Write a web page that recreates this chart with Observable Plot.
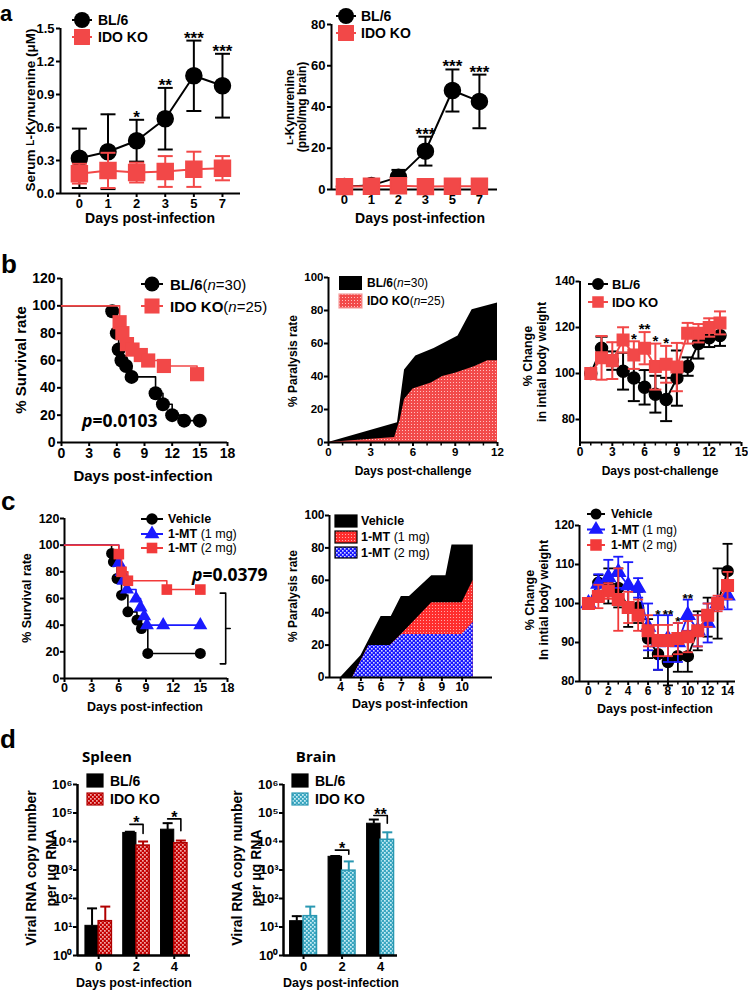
<!DOCTYPE html>
<html><head><meta charset="utf-8">
<script src="https://cdn.jsdelivr.net/npm/d3@7"></script>
<script src="https://cdn.jsdelivr.net/npm/@observablehq/plot@0.6"></script>
<style>
body{margin:0;background:#fff;}
#wrap{position:relative;width:748px;height:992px;overflow:hidden;background:#fff;}
g[aria-label$="-axis tick"], g[aria-label$="-axis tick"] path {stroke-width:2px;}
</style></head><body><div id="wrap"></div>
<script>
// ================= DATA =================
// a: kynurenine
const aDayLabels = ["0","1","2","3","5","7"];
const aSerumBL = [0.32,0.38,0.48,0.68,1.07,0.98];
const aSerumBLErr = [0.27,0.34,0.19,0.28,0.32,0.29];
const aSerumKO = [0.18,0.21,0.19,0.20,0.22,0.23];
const aSerumKOErr = [0.09,0.16,0.09,0.14,0.16,0.11];
const aSerumSig = ["","","*","**","***","***"];
const aBrainBL = [1.5,2.0,6.0,18.6,48.0,42.7];
const aBrainBLErr = [0.6,1.5,3.5,7.0,10.2,13.0];
const aBrainKO = [1.4,1.6,1.8,1.4,1.6,1.6];
const aBrainKOErr = [0.6,0.6,0.8,0.6,0.6,0.6];
const aBrainSig = ["","","","***","***","***"];
// b: survival (Kaplan-Meier)
const bSurvBLDays = [0,5.5,6.0,6.2,6.5,7.0,7.6,10.2,11.0,12.0,13.3,15];
const bSurvBL = [100,96,80,68,60,56,48,36,28,20,16,16];
const bSurvKODays = [0,6.3,6.6,7.1,7.7,8.6,9.4,11.1,14.7];
const bSurvKO = [100,88,80,72,68,64,60,56,50];
// b: paralysis
const bParBLDays = [0,4.9,5.4,6.2,7.5,9.2,10.2,12];
const bParBL = [0,12,44,52.5,57,64.5,80.5,84.5];
const bParKODays = [0,4.7,5.1,5.4,6.0,7.3,8.1,9.0,10.4,11.3,12];
const bParKO = [0,3,14,26,32.5,36,40,42,46,49.5,49.5];
// b: body weight
const bWtDays = [1,2,3,4,5,6,7,8,9,10,11,12,13];
const bWtBL = [100,111,105.6,101,98,94,91,88.7,98,103,113,115.5,116.5];
const bWtBLErr = [0,5,4,8,10,7.5,8,9.4,12,4,6.5,4,4.5];
const bWtKO = [100,106.8,105.6,114.6,108,111,103,104,102.8,117.5,117.5,120,122];
const bWtKOErr = [0,9.5,8,5.5,6,7,10,8,10.5,4.5,4,4,5];
const bWtSig = ["","","","","*","**","*","*","","","","",""];
// c: survival
const cSurvVehDays = [0,5.2,5.4,5.8,6.3,7.0,8.0,8.5,9.2,15];
const cSurvVeh = [100,93.8,87.5,75,62.5,50,43.8,37.5,18.8,18.8];
const cSurv1Days = [0,6.0,6.3,6.5,6.9,7.9,8.4,8.8,9.1,10.9,15];
const cSurv1 = [100,86.7,80,73.3,66.7,60,53.3,46.7,40,40,40];
const cSurv2Days = [0,6.0,6.3,7.0,11.3,15];
const cSurv2 = [100,93.3,80,73.3,66.7,66.7];
const cBracketX = [17.2,17.8,17.8,17.2];
const cBracketY = [64,64,11,11];
const cBracketTick = [17.8,18.3];
const cPValue = "0.0379";
const bPValue = "0.0103";
// c: paralysis
const cParVehDays = [4,5,6,6.5,7,7.4,8.5,9.2,9.5,10.55];
const cParVeh = [0,13.5,37.7,37.7,50,50,62.8,62.8,81.8,81.8];
const cPar1Days = [4.6,5.4,6.45,7.0,8.5,10.0,10.55];
const cPar1 = [0,19.7,19.7,26.5,46.2,46.2,60];
const cPar2Days = [4.6,5.4,6.45,7.03,10.0,10.55];
const cPar2 = [0,19.7,19.7,26.5,26.5,34];
// c: body weight
const cWtDays = [0,1,2,3,4,5,6,7,8,9,10,11,12,13,14];
const cWtVeh = [100,105.3,104.5,104,99,99,91,87,85,86.5,86.5,93,96.5,100,108.3];
const cWtVehErr = [0,2,4.5,5,5,4,5,4,6,4,4,5,5,9,7];
const cWt1 = [100,105,106.7,108,104.6,104,94,90,91,90,97,93,95,100,102];
const cWt1Err = [0,2.5,4.5,4,6,2.5,6,7,6,5,4,4,5,1.5,3.5];
const cWt2 = [100,101.8,103.2,101,99,97,93,90.5,90.5,91,91.5,93,97,100,104.6];
const cWt2Err = [0,3,2,8,4,4,4,4,4,4,4,4,3,2,3.5];
const cWtSig = ["","","","","","","","*","**","*","**","","","",""];
// d: viral RNA
const dDayLabels = ["0","2","4"];
const dSpleenBL = [11,2.0e4,2.6e4];
const dSpleenBLTop = [45,2.2e4,4.4e4];
const dSpleenKO = [16,7.2e3,8.7e3];
const dSpleenKOTop = [52,1.0e4,1.08e4];
const dSpleenBracket = [0,4.0e4,6.2e4];
const dSpleenBracketEnd = [0,1.9e4,2.4e4];
const dSpleenSig = ["","*","*"];
const dBrainBL = [16,2.9e3,4.2e4];
const dBrainBLTop = [24,3.1e3,5.9e4];
const dBrainKO = [24,950,1.15e4];
const dBrainKOTop = [52,2.0e3,2.1e4];
const dBrainBracket = [0,5.0e3,8.2e4];
const dBrainBracketEnd = [0,3.6e3,4.4e4];
const dBrainSig = ["","*","**"];

// ================= COLORS / FONTS =================
const ARIAL = "'Liberation Sans', Arial, Helvetica, sans-serif";
const OPEN = "'Open Sans', 'Liberation Sans', sans-serif";
const BLACK = "#000";
const RED = "#f24848";
const RED_C = "#f23a3a";
const BLUE_C = "#1a1aff";
const DRED = "#b00000";
const TEAL = "#2a98b2";

const wrap = document.getElementById("wrap");
const ov = d3.select(wrap).append("svg").attr("width",748).attr("height",992)
  .style("position","absolute").style("left","0px").style("top","0px").style("z-index","2").style("overflow","visible");
const defs = ov.append("defs");
function pat(id, size, bg, fg, dots){
  const p = defs.append("pattern").attr("id",id).attr("width",size).attr("height",size).attr("patternUnits","userSpaceOnUse");
  p.append("rect").attr("width",size).attr("height",size).attr("fill",bg);
  dots.forEach(([x,y,s])=>p.append("rect").attr("x",x).attr("y",y).attr("width",s).attr("height",s).attr("fill",fg));
}
pat("pRedB",3,"#f24a4a","#ffc0c0",[[0,0,1]]);
pat("pRedC",3,"#ff2e2e","#ffaaaa",[[0,0,1]]);
pat("pBlueC",4,"#1616ff","#d4d4ff",[[0,0,1.6],[2,2,1.6]]);
pat("pRedD",4,"#c40000","#f2a8a8",[[0,0,1.7],[2,2,1.7]]);
pat("pTealD",4,"#3aa6c0","#c8eef6",[[0,0,1.7],[2,2,1.7]]);

// ================= HELPERS =================
const capSym = {draw(ctx,size){const r=Math.sqrt(size/Math.PI);ctx.moveTo(-r,0);ctx.lineTo(r,0);}};
const vTickSym = {draw(ctx,size){const r=Math.sqrt(size/Math.PI);ctx.moveTo(0,0);ctx.lineTo(0,r);}};

function chart(box, frame, fontSize, opts){
  const [bx,by,bw,bh] = box, [fx0,fy0,fx1,fy1] = frame;
  const svg = Plot.plot({
    width: bw, height: bh,
    marginLeft: fx0-bx, marginRight: bx+bw-fx1, marginTop: fy0-by, marginBottom: by+bh-fy1,
    style: {fontFamily: ARIAL, fontSize: fontSize+"px", fontWeight: "bold", background: "transparent", overflow: "visible", color: "#000"},
    ...opts
  });
  svg.style.position = "absolute"; svg.style.left = bx+"px"; svg.style.top = by+"px";
  wrap.appendChild(svg);
  return svg;
}
function pts(xs, ys, errs){ return xs.map((x,i)=>({x, y: ys[i], lo: ys[i]-(errs?errs[i]:0), hi: ys[i]+(errs?errs[i]:0)})); }
function errMarks(data, color, capR, sw=2){
  const d = data.filter(p=>p.hi>p.y);
  return [
    Plot.ruleX(d,{x:"x",y1:"lo",y2:"hi",stroke:color,strokeWidth:sw}),
    Plot.dot(d,{x:"x",y:"hi",symbol:capSym,r:capR,stroke:color,strokeWidth:sw,fill:"none"}),
    Plot.dot(d,{x:"x",y:"lo",symbol:capSym,r:capR,stroke:color,strokeWidth:sw,fill:"none"})
  ];
}
function seriesMarks(data, color, symbol, r, capR, lw=2){
  return [
    Plot.line(data,{x:"x",y:"y",stroke:color,strokeWidth:lw}),
    ...errMarks(data,color,capR,lw),
    Plot.dot(data,{x:"x",y:"y",symbol,r,fill:color,stroke:color})
  ];
}
function axisLines(xmin, ymin, sw=2){
  return [Plot.ruleX([xmin],{strokeWidth:sw}), Plot.ruleY([ymin],{strokeWidth:sw})];
}
function minorTicks(vals, ymin, len=3){
  return Plot.dot(vals,{x:d=>d,y:()=>ymin,symbol:vTickSym,r:len,stroke:"#000",strokeWidth:1.5,fill:"none"});
}
function sigData(xs, groups, sig){
  return xs.map((x,i)=>({x, y: Math.max(...groups.map(g=>g[i].hi)), s: sig[i]})).filter(d=>d.s);
}
const range = (a,b,s=1)=>d3.range(a,b+s/2,s);

function T(x,y,segs,o={}){
  const t = ov.append("text").attr("x",x).attr("y",y)
    .attr("font-family",o.family||ARIAL).attr("font-size",o.size||13)
    .attr("font-weight",o.weight||"bold").attr("text-anchor",o.anchor||"middle")
    .attr("dominant-baseline",o.baseline||"central").attr("fill",o.color||"#000");
  if (o.rotate) t.attr("transform",`rotate(${o.rotate},${x},${y})`);
  (typeof segs==="string"?[[segs]]:segs).forEach(([s,so={}])=>{
    const ts = t.append("tspan").text(s);
    if (so.weight) ts.attr("font-weight",so.weight);
    if (so.style) ts.attr("font-style",so.style);
    if (so.size) ts.attr("font-size",so.size);
  });
}
function LM(x,y,{sym,r,color,line}){
  if (line) ov.append("line").attr("x1",x-line/2).attr("x2",x+line/2).attr("y1",y).attr("y2",y).attr("stroke",color).attr("stroke-width",2);
  ov.append("path").attr("transform",`translate(${x},${y})`).attr("d",d3.symbol(sym,Math.PI*r*r)()).attr("fill",color);
}
function LR(x,y,w,h,fill,stroke){
  ov.append("rect").attr("x",x).attr("y",y).attr("width",w).attr("height",h).attr("fill",fill)
    .attr("stroke",stroke||"none").attr("stroke-width",stroke?1.2:0);
}

// ================= PANEL a (left) =================
{
  const idx = aDayLabels.map((_,i)=>i);
  const bl = pts(idx,aSerumBL,aSerumBLErr), ko = pts(idx,aSerumKO,aSerumKOErr);
  chart([0,0,250,212],[60,28,240,193],13,{
    x:{domain:[-0.66,5.63],ticks:idx,tickFormat:i=>aDayLabels[i],tickSize:4,tickPadding:1,label:null},
    y:{domain:[0,1.5],ticks:[0,0.3,0.6,0.9,1.2,1.5],tickFormat:d3.format(".1f"),tickSize:4,tickPadding:2,label:null},
    marks:[
      ...axisLines(-0.66,0),
      ...seriesMarks(bl,BLACK,"circle",8,7.5),
      ...seriesMarks(ko,RED,"square",9,7.5),
      Plot.text(sigData(idx,[bl,ko],aSerumSig),{x:"x",y:"y",text:"s",fontSize:17,fontWeight:"bold",dy:-2.5})
    ]
  });
}
// ================= PANEL a (right) =================
{
  const idx = aDayLabels.map((_,i)=>i);
  const bl = pts(idx,aBrainBL,aBrainBLErr), ko = pts(idx,aBrainKO,aBrainKOErr);
  chart([250,0,255,212],[331,24,497,189],13,{
    x:{domain:[-0.48,5.67],ticks:idx,tickFormat:i=>aDayLabels[i],tickSize:4,tickPadding:1,label:null},
    y:{domain:[0,80],ticks:[0,20,40,60,80],tickSize:4,tickPadding:2,label:null},
    marks:[
      ...axisLines(-0.48,0),
      ...seriesMarks(bl,BLACK,"circle",8,7),
      ...seriesMarks(ko,RED,"square",9,7),
      Plot.text(sigData(idx,[bl,ko],aBrainSig),{x:"x",y:"y",text:"s",fontSize:17,fontWeight:"bold",dy:-2.5})
    ]
  });
}
// ================= PANEL b (survival) =================
{
  const bl = pts(bSurvBLDays,bSurvBL), ko = pts(bSurvKODays,bSurvKO);
  chart([0,262,250,200],[61,278,227,442],14,{
    x:{domain:[0,18],ticks:range(0,18,3),tickSize:4,tickPadding:2,label:null},
    y:{domain:[0,120],ticks:range(0,120,20),tickSize:4,tickPadding:2,label:null},
    marks:[
      ...axisLines(0,0),
      Plot.line(bl,{x:"x",y:"y",curve:"step-after",stroke:BLACK,strokeWidth:1.6}),
      Plot.dot(bl.slice(1),{x:"x",y:"y",symbol:"circle",r:7,fill:BLACK}),
      Plot.line(ko,{x:"x",y:"y",curve:"step-after",stroke:RED,strokeWidth:1.6}),
      Plot.dot(ko.slice(1),{x:"x",y:"y",symbol:"square",r:8,fill:RED})
    ]
  });
}
// ================= PANEL b (paralysis) =================
{
  const bl = pts(bParBLDays,bParBL), ko = pts(bParKODays,bParKO);
  chart([255,262,250,200],[328,277,497,442],11.5,{
    x:{domain:[0,12],ticks:range(0,12,3),tickSize:4,tickPadding:1,label:null},
    y:{domain:[0,100],ticks:range(0,100,20),tickSize:4,tickPadding:1,label:null},
    marks:[
      Plot.areaY(bl,{x:"x",y:"y",fill:BLACK}),
      Plot.areaY(ko,{x:"x",y:"y",fill:"url(#pRedB)"}),
      ...axisLines(0,0),
      minorTicks(range(1,11).filter(d=>d%3),0,3)
    ]
  });
}
// ================= PANEL b (body weight) =================
{
  const bl = pts(bWtDays,bWtBL,bWtBLErr), ko = pts(bWtDays,bWtKO,bWtKOErr);
  chart([505,262,243,200],[579.5,281,741,442],12,{
    x:{domain:[0,15],ticks:range(0,15,3),tickSize:4,tickPadding:1,label:null},
    y:{domain:[70,140],ticks:[80,100,120,140],tickSize:4,tickPadding:1,label:null},
    marks:[
      ...axisLines(0,70),
      minorTicks(range(1,14).filter(d=>d%3),70,3),
      ...seriesMarks(bl,BLACK,"circle",6,6),
      ...seriesMarks(ko,RED,"square",6.5,6),
      Plot.text(sigData(bWtDays,[bl,ko],bWtSig),{x:"x",y:"y",text:"s",fontSize:15,fontWeight:"bold",dy:-2.5})
    ]
  });
}
// ================= PANEL c (survival) =================
{
  const veh = pts(cSurvVehDays,cSurvVeh), m1 = pts(cSurv1Days,cSurv1), m2 = pts(cSurv2Days,cSurv2);
  const br = cBracketX.map((x,i)=>({x,y:cBracketY[i]}));
  const brT = cBracketTick.map(x=>({x,y:(cBracketY[0]+cBracketY[2])/2}));
  chart([0,500,250,200],[64,518,227,678],12.5,{
    x:{domain:[0,18],ticks:range(0,18,3),tickSize:4,tickPadding:1,label:null},
    y:{domain:[0,120],ticks:range(0,120,20),tickSize:4,tickPadding:1,label:null},
    marks:[
      ...axisLines(0,0),
      Plot.line(veh,{x:"x",y:"y",curve:"step-after",stroke:BLACK,strokeWidth:1.6}),
      Plot.dot(veh.slice(1),{x:"x",y:"y",symbol:"circle",r:5.5,fill:BLACK}),
      Plot.line(m1,{x:"x",y:"y",curve:"step-after",stroke:BLUE_C,strokeWidth:1.6}),
      Plot.dot(m1.slice(1),{x:"x",y:"y",symbol:"triangle",r:5.2,fill:BLUE_C}),
      Plot.line(m2,{x:"x",y:"y",curve:"step-after",stroke:RED_C,strokeWidth:1.6}),
      Plot.dot(m2.slice(1),{x:"x",y:"y",symbol:"square",r:6,fill:RED_C}),
      Plot.line(br,{x:"x",y:"y",stroke:BLACK,strokeWidth:1.6}),
      Plot.line(brT,{x:"x",y:"y",stroke:BLACK,strokeWidth:1.6})
    ]
  });
}
// ================= PANEL c (paralysis) =================
{
  const veh = pts(cParVehDays,cParVeh), m1 = pts(cPar1Days,cPar1), m2 = pts(cPar2Days,cPar2);
  chart([255,500,250,200],[329,515,492,677],12,{
    x:{domain:[3.45,11.5],ticks:range(4,10),tickSize:4,tickPadding:1,label:null},
    y:{domain:[0,100],ticks:range(0,100,20),tickSize:4,tickPadding:1,label:null},
    marks:[
      Plot.areaY(veh,{x:"x",y:"y",fill:BLACK}),
      Plot.areaY(m1,{x:"x",y:"y",fill:"url(#pRedC)"}),
      Plot.areaY(m2,{x:"x",y:"y",fill:"url(#pBlueC)"}),
      ...axisLines(3.45,0)
    ]
  });
}
// ================= PANEL c (body weight) =================
{
  const veh = pts(cWtDays,cWtVeh,cWtVehErr), m1 = pts(cWtDays,cWt1,cWt1Err), m2 = pts(cWtDays,cWt2,cWt2Err);
  chart([505,505,243,195],[579,525,735,681],12,{
    x:{domain:[-0.9,14.8],ticks:range(0,14,2),tickSize:4,tickPadding:1,label:null},
    y:{domain:[80,120],ticks:range(80,120,10),tickSize:4,tickPadding:1,label:null},
    marks:[
      ...axisLines(-0.9,80),
      minorTicks(range(1,13,2),80,3),
      ...seriesMarks(veh,BLACK,"circle",5.5,5,1.8),
      ...seriesMarks(m1,BLUE_C,"triangle",5.2,5,1.8),
      ...seriesMarks(m2,RED_C,"square",6.5,5,1.8),
      Plot.text(sigData(cWtDays,[veh,m1,m2],cWtSig),{x:"x",y:"y",text:"s",fontSize:13.5,fontWeight:"bold",dy:-1})
    ]
  });
}
// ================= PANEL d =================
const sup = ["\u2070","\u00b9","\u00b2","\u00b3","\u2074","\u2075","\u2076"];
function dChart(box, frame, dom, bl, blTop, ko, koTop, koFill, koStroke, brk, brkEnd, sig){
  const w = 0.35;
  const idx = dDayLabels.map((_,i)=>i);
  const bars = idx.flatMap(i=>[
    {x1:i-w,x2:i,xc:i-w/2,y:bl[i],top:blTop[i],g:"BL"},
    {x1:i,x2:i+w,xc:i+w/2,y:ko[i],top:koTop[i],g:"KO"}]);
  const blBars = bars.filter(b=>b.g==="BL"), koBars = bars.filter(b=>b.g==="KO");
  const brackets = idx.filter(i=>sig[i]).flatMap(i=>[
    {x:i-w/2,y:brk[i],k:i},{x:i+w/2,y:brk[i],k:i},{x:i+w/2,y:brkEnd[i],k:i}]);
  const stars = idx.filter(i=>sig[i]).map(i=>({x:i,y:brk[i],s:sig[i]}));
  chart(box,frame,13,{
    x:{domain:dom,ticks:idx,tickFormat:i=>dDayLabels[i],tickSize:4,tickPadding:2,label:null},
    y:{type:"log",domain:[1,1e6],ticks:[1,10,100,1e3,1e4,1e5,1e6],tickFormat:d=>"10"+sup[Math.round(Math.log10(d))],tickSize:4,tickPadding:1,label:null},
    marks:[
      Plot.ruleX(blBars,{x:"xc",y1:"y",y2:"top",stroke:BLACK,strokeWidth:2}),
      Plot.dot(blBars,{x:"xc",y:"top",symbol:capSym,r:5,stroke:BLACK,strokeWidth:2,fill:"none"}),
      Plot.ruleX(koBars,{x:"xc",y1:"y",y2:"top",stroke:koStroke,strokeWidth:2}),
      Plot.dot(koBars,{x:"xc",y:"top",symbol:capSym,r:5,stroke:koStroke,strokeWidth:2,fill:"none"}),
      Plot.rectY(blBars,{x1:"x1",x2:"x2",y1:1,y2:"y",fill:BLACK,stroke:BLACK,strokeWidth:1}),
      Plot.rectY(koBars,{x1:"x1",x2:"x2",y1:1,y2:"y",fill:koFill,stroke:koStroke,strokeWidth:1.5}),
      Plot.line(brackets,{x:"x",y:"y",z:"k",stroke:BLACK,strokeWidth:1.6}),
      Plot.text(stars,{x:"x",y:"y",text:"s",fontSize:16,fontWeight:"bold",dy:-1}),
      ...axisLines(dom[0],1,2.5)
    ]
  });
}
dChart([0,770,210,222],[77,784,190,955],[-0.56,2.43],dSpleenBL,dSpleenBLTop,dSpleenKO,dSpleenKOTop,"url(#pRedD)",DRED,dSpleenBracket,dSpleenBracketEnd,dSpleenSig);
dChart([210,770,200,222],[283,784,397,955],[-0.52,2.44],dBrainBL,dBrainBLTop,dBrainKO,dBrainKOTop,"url(#pTealD)",TEAL,dBrainBracket,dBrainBracketEnd,dBrainSig);

// bring overlay on top
wrap.appendChild(ov.node());

// ================= TEXT: panel letters =================
T(0,21,"a",{size:22,anchor:"start",baseline:"alphabetic"});
T(1,273,"b",{size:26,anchor:"start",baseline:"alphabetic"});
T(1,510,"c",{size:26,anchor:"start",baseline:"alphabetic"});
T(0,748,"d",{size:26,anchor:"start",baseline:"alphabetic"});

// ================= TEXT: axis titles =================
T(150,218,"Days post-infection",{size:14});
T(420,218,"Days post-infection",{size:14});
T(143,475,"Days post-infection",{size:15});
T(413,471,"Days post-challenge",{size:12});
T(660,471,"Days post-challenge",{size:12});
T(145,707,"Days post-infection",{size:12.5});
T(410,704,"Days post-infection",{size:12.5});
T(655,709,"Days post-infection",{size:12.5});
T(134,983,"Days post-infection",{size:12.5});
T(341,983,"Days post-infection",{size:12.5});

T(30,110,[["Serum "],["L",{size:10}],["-Kynurenine (\u03bcM)"]],{size:13.5,rotate:-90});
T(290,107,[["L",{size:9}],["-Kynurenine"]],{size:12,rotate:-90});
T(302,107,"(pmol/mg brain)",{size:12,rotate:-90});
T(20,360,"% Survival rate",{size:15,rotate:-90});
T(293,361,"% Paralysis rate",{size:12,rotate:-90});
T(528,356,"% Change",{size:12.5,rotate:-90});
T(542,362,"in intial body weight",{size:12.5,rotate:-90});
T(27,598,"% Survival rate",{size:12.5,rotate:-90});
T(293,596,"% Paralysis rate",{size:12,rotate:-90});
T(530,600,"% Change",{size:12.5,rotate:-90});
T(544,600,"In intial body weight",{size:12.5,rotate:-90});
T(31,868,"Viral RNA copy number",{size:14,rotate:-90});
T(51,868,"per \u03bcg RNA",{size:14,rotate:-90});
T(237,868,"Viral RNA copy number",{size:14,rotate:-90});
T(256,868,"per \u03bcg RNA",{size:14,rotate:-90});
T(107,756,"Spleen",{size:15,family:OPEN});
T(316,756,"Brain",{size:15,family:OPEN});

// p-values
T(82,420,[["p",{style:"italic"}],["="+bPValue]],{size:17.5,anchor:"start",family:OPEN});
T(192,574,[["p",{style:"italic"}],["="+cPValue]],{size:17.5,anchor:"start",family:OPEN});

// ================= LEGENDS =================
LM(82,20,{sym:d3.symbolCircle,r:8,color:BLACK,line:20}); T(98,20,"BL/6",{size:14,anchor:"start"});
LM(82,37,{sym:d3.symbolSquare,r:9,color:RED,line:20}); T(98,37,"IDO KO",{size:14,anchor:"start"});
LM(346,16,{sym:d3.symbolCircle,r:8,color:BLACK,line:20}); T(361,16,"BL/6",{size:14,anchor:"start"});
LM(346,33,{sym:d3.symbolSquare,r:9,color:RED,line:20}); T(361,33,"IDO KO",{size:14,anchor:"start"});

LM(152,284,{sym:d3.symbolCircle,r:7.5,color:BLACK,line:22}); T(170,284,[["BL/6"],["(",{weight:"normal"}],["n",{style:"italic",weight:"normal"}],["=30)",{weight:"normal"}]],{size:15,anchor:"start"});
LM(152,306,{sym:d3.symbolSquare,r:8.5,color:RED,line:22}); T(170,306,[["IDO KO"],["(",{weight:"normal"}],["n",{style:"italic",weight:"normal"}],["=25)",{weight:"normal"}]],{size:15,anchor:"start"});

LR(339,276,23,14,BLACK); T(367,283,[["BL/6"],["(",{weight:"normal"}],["n",{style:"italic",weight:"normal"}],["=30)",{weight:"normal"}]],{size:12,anchor:"start"});
LR(339,294,23,14,"url(#pRedB)","#f5a0a0"); T(367,301,[["IDO KO"],["(",{weight:"normal"}],["n",{style:"italic",weight:"normal"}],["=25)",{weight:"normal"}]],{size:12,anchor:"start"});

LM(598,284,{sym:d3.symbolCircle,r:6,color:BLACK,line:20}); T(612,284,"BL/6",{size:13,anchor:"start"});
LM(598,302,{sym:d3.symbolSquare,r:6.5,color:RED,line:20}); T(612,302,"IDO KO",{size:13,anchor:"start"});

LM(152,519,{sym:d3.symbolCircle,r:5.8,color:BLACK,line:22}); T(168,519,"Vehicle",{size:12.5,anchor:"start"});
LM(152,534,{sym:d3.symbolTriangle,r:5.5,color:BLUE_C,line:22}); T(168,534,[["1-MT"],[" (1 mg)",{weight:"normal"}]],{size:12.5,anchor:"start"});
LM(152,548,{sym:d3.symbolSquare,r:6,color:RED_C,line:22}); T(168,548,[["1-MT"],[" (2 mg)",{weight:"normal"}]],{size:12.5,anchor:"start"});

LR(335,515,22,12,BLACK,BLACK); T(361,521,"Vehicle",{size:12.5,anchor:"start"});
LR(335,531,22,12,"url(#pRedC)",BLACK); T(361,537,[["1-MT"],[" (1 mg)",{weight:"normal"}]],{size:12.5,anchor:"start"});
LR(335,547,22,11,"url(#pBlueC)",BLACK); T(361,552.5,[["1-MT"],[" (2 mg)",{weight:"normal"}]],{size:12.5,anchor:"start"});

LM(596,514,{sym:d3.symbolCircle,r:5.5,color:BLACK,line:18}); T(611,514,"Vehicle",{size:12,anchor:"start"});
LM(596,529.5,{sym:d3.symbolTriangle,r:5.5,color:BLUE_C,line:18}); T(611,529.5,[["1-MT"],[" (1 mg)",{weight:"normal"}]],{size:12,anchor:"start"});
LM(596,545,{sym:d3.symbolSquare,r:6.5,color:RED_C,line:18}); T(611,545,[["1-MT"],[" (2 mg)",{weight:"normal"}]],{size:12,anchor:"start"});

LR(87,774,16,13,BLACK,BLACK); T(110,781,"BL/6",{size:14,anchor:"start"});
LR(87,793,16,12,"url(#pRedD)",DRED); T(110,799,"IDO KO",{size:14,anchor:"start"});
LR(292,774,16,13,BLACK,BLACK); T(315,781,"BL/6",{size:14,anchor:"start"});
LR(292,793,16,12,"url(#pTealD)",TEAL); T(315,799,"IDO KO",{size:14,anchor:"start"});
</script></body></html>
